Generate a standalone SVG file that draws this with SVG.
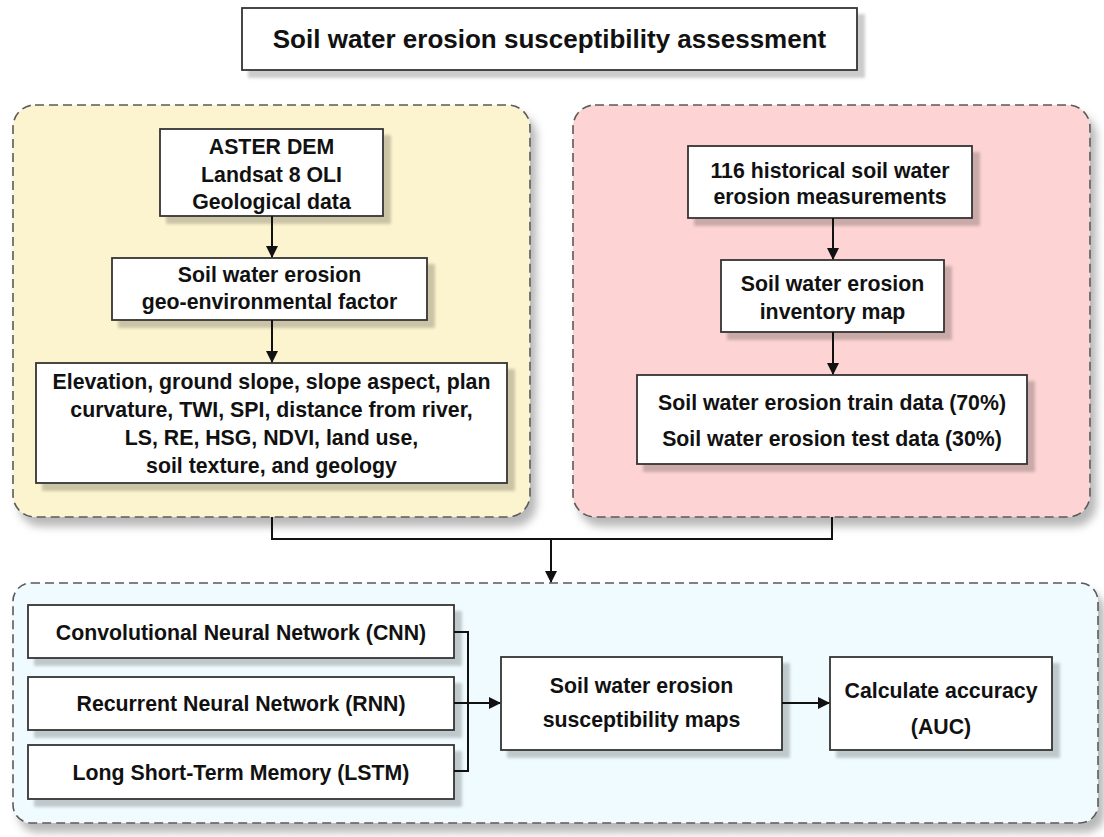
<svg xmlns="http://www.w3.org/2000/svg" width="1104" height="837" viewBox="0 0 1104 837">
  <defs>
    <filter id="psh" x="-5%" y="-5%" width="115%" height="120%">
      <feDropShadow dx="6" dy="9" stdDeviation="4" flood-color="#000" flood-opacity="0.28"/>
    </filter>
    <filter id="bsh" x="-5%" y="-5%" width="115%" height="130%">
      <feDropShadow dx="7" dy="7" stdDeviation="1.5" flood-color="#000" flood-opacity="0.2"/>
    </filter>
    <marker id="arr" viewBox="0 0 12 12" refX="11" refY="6" markerWidth="12" markerHeight="12" markerUnits="userSpaceOnUse" orient="auto">
      <path d="M0,0 L12,6 L0,12 Z" fill="#111"/>
    </marker>
  </defs>
  <style>
    .panel { stroke: #5a5a5a; stroke-width: 1.6; stroke-dasharray: 9 5; filter: url(#psh); }
    .box { fill: #ffffff; stroke: #333; stroke-width: 1.8; filter: url(#bsh); }
    .t { font-family: "Liberation Sans", Arial, sans-serif; font-weight: bold; font-size: 21.3px; fill: #111; text-anchor: middle; }
    .title { font-size: 26px; }
    .c { fill: none; stroke: #111; stroke-width: 2; }
  </style>
  <rect width="1104" height="837" fill="#ffffff"/>

  <g id="panels">
    <rect id="panel-data" class="panel" x="13" y="105" width="517" height="412" rx="22" fill="#fcf4cf"/>
    <rect id="panel-inventory" class="panel" x="573" y="105" width="517" height="412" rx="22" fill="#fdd3d3"/>
    <rect id="panel-models" class="panel" x="13" y="583" width="1085" height="240" rx="18" fill="#effbff"/>
  </g>

  <g id="title">
    <rect class="box" x="242" y="8" width="615" height="62"/>
    <text class="t title" x="549.5" y="48">Soil water erosion susceptibility assessment</text>
  </g>

  <g id="sources">
    <rect class="box" x="160" y="129" width="223" height="87"/>
    <text class="t" x="271.5" y="154">ASTER DEM</text>
    <text class="t" x="271.5" y="182">Landsat 8 OLI</text>
    <text class="t" x="271.5" y="209">Geological data</text>
  </g>

  <g id="geo-factor">
    <rect class="box" x="112" y="258" width="315" height="62"/>
    <text class="t" x="269.5" y="282">Soil water erosion</text>
    <text class="t" x="269.5" y="309">geo-environmental factor</text>
  </g>

  <g id="factors">
    <rect class="box" x="36" y="363" width="471" height="120"/>
    <text class="t" x="271.5" y="389">Elevation, ground slope, slope aspect, plan</text>
    <text class="t" x="271.5" y="417">curvature, TWI, SPI, distance from river,</text>
    <text class="t" x="271.5" y="445">LS, RE, HSG, NDVI, land use,</text>
    <text class="t" x="271.5" y="473">soil texture, and geology</text>
  </g>

  <g id="measurements">
    <rect class="box" x="688" y="146" width="284" height="72"/>
    <text class="t" x="830" y="178">116 historical soil water</text>
    <text class="t" x="830" y="204">erosion measurements</text>
  </g>

  <g id="inventory">
    <rect class="box" x="721" y="260" width="223" height="72"/>
    <text class="t" x="832.5" y="291">Soil water erosion</text>
    <text class="t" x="832.5" y="319">inventory map</text>
  </g>

  <g id="train-test">
    <rect class="box" x="637" y="375" width="390" height="89"/>
    <text class="t" x="832" y="410">Soil water erosion train data (70%)</text>
    <text class="t" x="832" y="446">Soil water erosion test data (30%)</text>
  </g>

  <g id="cnn">
    <rect class="box" x="28" y="605" width="426" height="53"/>
    <text class="t" x="241" y="640">Convolutional Neural Network (CNN)</text>
  </g>

  <g id="rnn">
    <rect class="box" x="28" y="677" width="426" height="53"/>
    <text class="t" x="241" y="711">Recurrent Neural Network (RNN)</text>
  </g>

  <g id="lstm">
    <rect class="box" x="28" y="745" width="426" height="54"/>
    <text class="t" x="241" y="780">Long Short-Term Memory (LSTM)</text>
  </g>

  <g id="maps">
    <rect class="box" x="501" y="657" width="281" height="93"/>
    <text class="t" x="641.5" y="693">Soil water erosion</text>
    <text class="t" x="641.5" y="727">susceptibility maps</text>
  </g>

  <g id="accuracy">
    <rect class="box" x="830" y="657" width="222" height="93"/>
    <text class="t" x="941" y="698">Calculate accuracy</text>
    <text class="t" x="941" y="734">(AUC)</text>
  </g>

  <g id="connectors">
    <path class="c" d="M272,216 V257" marker-end="url(#arr)"/>
    <path class="c" d="M272,320 V362" marker-end="url(#arr)"/>
    <path class="c" d="M833,218 V259" marker-end="url(#arr)"/>
    <path class="c" d="M833,332 V374" marker-end="url(#arr)"/>
    <path class="c" d="M272,517 V539 H832 V517"/>
    <path class="c" d="M551,539 V582" marker-end="url(#arr)"/>
    <path class="c" d="M454,632 H468 V771 H454"/>
    <path class="c" d="M454,703 H500" marker-end="url(#arr)"/>
    <path class="c" d="M782,703 H829" marker-end="url(#arr)"/>
  </g>
</svg>
